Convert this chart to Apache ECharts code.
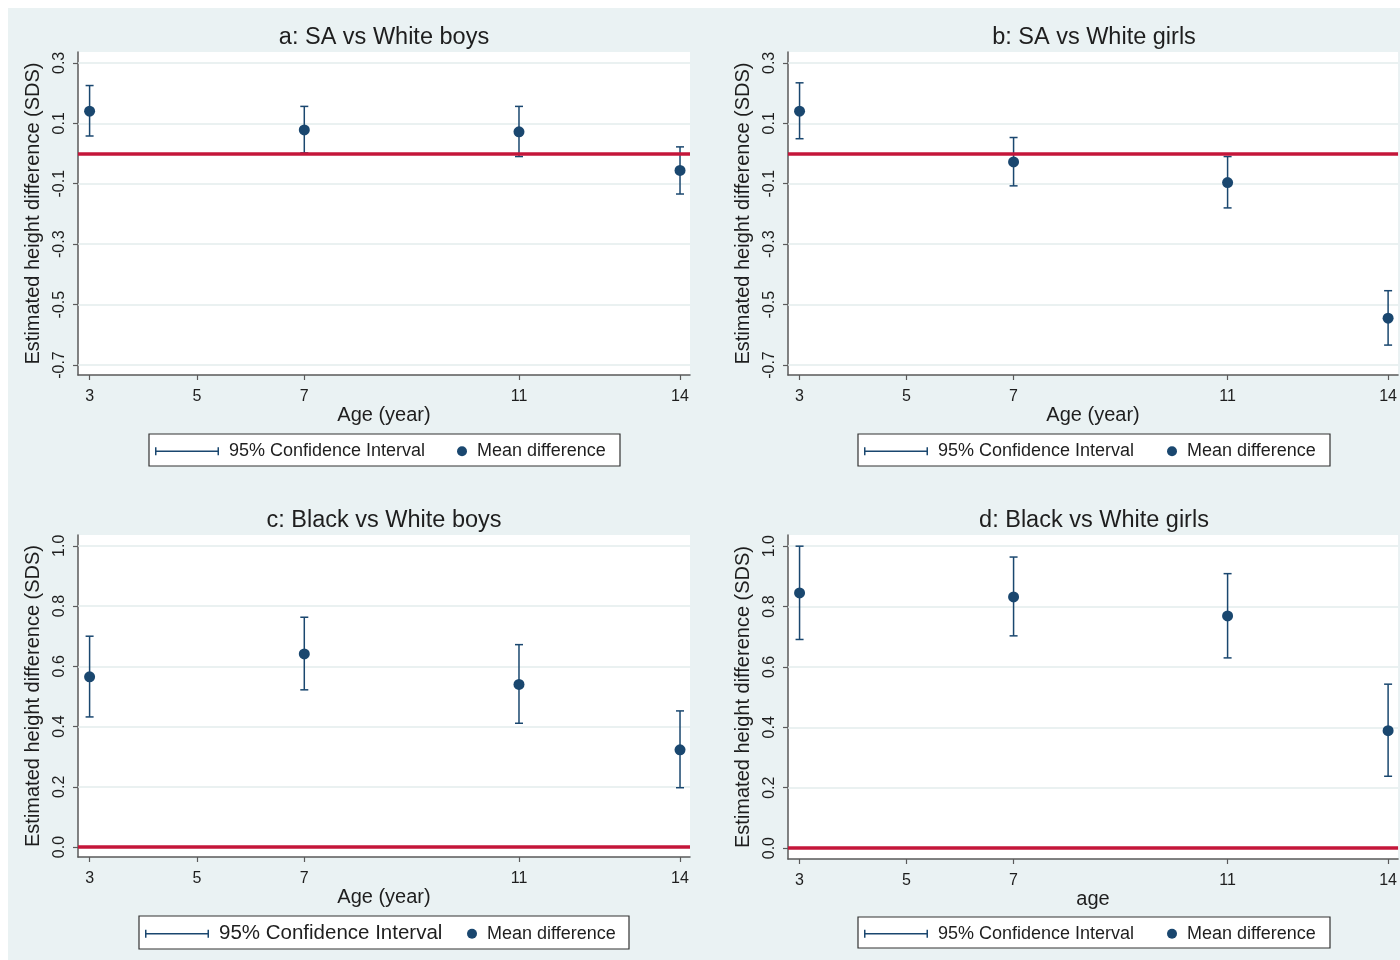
<!DOCTYPE html>
<html>
<head>
<meta charset="utf-8">
<script src="https://cdn.jsdelivr.net/npm/echarts@6/dist/echarts.min.js"></script>
<style>
html,body{margin:0;padding:0;background:#fff;}
#chart{width:1400px;height:960px;}
</style>
</head>
<body>
<div id="chart"></div>
<script>
// ---------- data ----------
const ages = [3, 7, 11, 14];
const xTicks = [3, 5, 7, 11, 14];
const yTicksAB = [-0.7, -0.5, -0.3, -0.1, 0.1, 0.3];
const yTicksCD = [0.0, 0.2, 0.4, 0.6, 0.8, 1.0];

const titles = ['a: SA vs White boys', 'b: SA vs White girls', 'c: Black vs White boys', 'd: Black vs White girls'];
const xNames = ['Age (year)', 'Age (year)', 'Age (year)', 'age'];
const yName = 'Estimated height difference (SDS)';
const ciName = '95% Confidence Interval';
const meanName = 'Mean difference';

const aMean = [0.140, 0.078, 0.072, -0.056];
const aLo   = [0.058, 0.002, -0.010, -0.134];
const aHi   = [0.225, 0.156, 0.156, 0.022];

const bMean = [0.140, -0.028, -0.096, -0.545];
const bLo   = [0.049, -0.107, -0.180, -0.634];
const bHi   = [0.234, 0.053, -0.010, -0.454];

const cMean = [0.565, 0.641, 0.540, 0.323];
const cLo   = [0.432, 0.522, 0.411, 0.197];
const cHi   = [0.700, 0.763, 0.672, 0.452];

const dMean = [0.845, 0.832, 0.769, 0.389];
const dLo   = [0.691, 0.703, 0.630, 0.238];
const dHi   = [1.000, 0.964, 0.909, 0.543];

// ---------- styling / layout ----------
const NAVY = '#1a476f';
const RED = '#c4163a';
const BG = '#eaf2f3';
const GRIDC = '#e3eced';
const AXISC = '#5a5a5a';
const TEXTC = '#1e1e1e';
const FONT = '"Liberation Sans", Arial, sans-serif';

const panels = [
  {mean: aMean, lo: aLo, hi: aHi, yTicks: yTicksAB, ymin: -0.733, ymax: 0.336,
   grid: {left: 78, top: 52, width: 612, height: 323}, titleX: 384, titleY: 26,
   legendY: 453, box: [149, 434, 471, 32], ciLeft: 155, meanLeft: 457, ciFont: 18},
  {mean: bMean, lo: bLo, hi: bHi, yTicks: yTicksAB, ymin: -0.733, ymax: 0.336,
   grid: {left: 788, top: 52, width: 612, height: 323}, titleX: 1094, titleY: 26,
   legendY: 453, box: [858, 434, 472, 32], ciLeft: 864, meanLeft: 1167, ciFont: 18},
  {mean: cMean, lo: cLo, hi: cHi, yTicks: yTicksCD, ymin: -0.033, ymax: 1.036,
   grid: {left: 78, top: 535, width: 612, height: 322}, titleX: 384, titleY: 509,
   legendY: 935.5, box: [139, 916, 490, 33], ciLeft: 145, meanLeft: 467, ciFont: 20.5},
  {mean: dMean, lo: dLo, hi: dHi, yTicks: yTicksCD, ymin: -0.036, ymax: 1.037,
   grid: {left: 788, top: 535, width: 612, height: 324}, titleX: 1094, titleY: 509,
   legendY: 935.5, box: [858, 917, 472, 31], ciLeft: 864, meanLeft: 1167, ciFont: 18}
];

function renderCI(params, api) {
  const x = api.value(0), lo = api.value(1), hi = api.value(2);
  const pLo = api.coord([x, lo]);
  const pHi = api.coord([x, hi]);
  const cw = 4;
  const style = {stroke: NAVY, lineWidth: 1.5, fill: null};
  return {
    type: 'group',
    children: [
      {type: 'line', shape: {x1: pLo[0], y1: pLo[1], x2: pHi[0], y2: pHi[1]}, style: style},
      {type: 'line', shape: {x1: pHi[0] - cw, y1: pHi[1], x2: pHi[0] + cw, y2: pHi[1]}, style: style},
      {type: 'line', shape: {x1: pLo[0] - cw, y1: pLo[1], x2: pLo[0] + cw, y2: pLo[1]}, style: style}
    ]
  };
}

const CI_ICON = 'path://M0,0h1.5v8h-1.5z M0,3.25h64v1.5h-64z M62.5,0h1.5v8h-1.5z';

const option = {
  animation: false,
  backgroundColor: '#ffffff',
  textStyle: {fontFamily: FONT},
  graphic: [],
  title: [],
  grid: [],
  xAxis: [],
  yAxis: [],
  legend: [],
  series: []
};

option.graphic.push({type: 'rect', shape: {x: 8, y: 8, width: 1392, height: 952}, style: {fill: BG}, z: -10, silent: true});

panels.forEach((p, i) => {
  option.title.push({
    text: titles[i], left: p.titleX, top: p.titleY, textAlign: 'center', padding: 0,
    textStyle: {fontFamily: FONT, fontSize: 23.5, fontWeight: 'normal', color: TEXTC}
  });
  option.grid.push(Object.assign({show: true, backgroundColor: '#ffffff', borderWidth: 0}, p.grid));
  option.xAxis.push({
    type: 'value', gridIndex: i, min: 2.784, max: 14.186,
    name: xNames[i], nameLocation: 'middle', nameGap: 29,
    nameTextStyle: {fontFamily: FONT, fontSize: 20, color: TEXTC},
    axisLine: {show: true, onZero: false, lineStyle: {color: AXISC, width: 1.5}},
    axisTick: {show: true, length: 5, inside: false, customValues: xTicks, lineStyle: {color: AXISC, width: 1.2}},
    axisLabel: {show: true, margin: 14, customValues: xTicks, fontFamily: FONT, fontSize: 16, color: TEXTC},
    splitLine: {show: false}
  });
  option.yAxis.push({
    type: 'value', gridIndex: i, min: p.ymin, max: p.ymax,
    name: yName, nameLocation: 'middle', nameRotate: 90, nameGap: 35,
    nameTextStyle: {fontFamily: FONT, fontSize: 20, color: TEXTC},
    axisLine: {show: true, onZero: false, lineStyle: {color: AXISC, width: 1.5}},
    axisTick: {show: true, length: 5, inside: false, customValues: p.yTicks, lineStyle: {color: AXISC, width: 1.2}},
    axisLabel: {show: true, rotate: 90, margin: 10, customValues: p.yTicks, fontFamily: FONT, fontSize: 16, color: TEXTC,
      formatter: v => v.toFixed(1)},
    splitLine: {show: false}
  });
  // legend box
  option.graphic.push({type: 'rect', shape: {x: p.box[0], y: p.box[1], width: p.box[2], height: p.box[3]},
    style: {fill: '#ffffff', stroke: '#333333', lineWidth: 1.2}, z: 1, silent: true});
  option.legend.push({
    left: p.ciLeft, top: p.legendY - p.ciFont * 0.6, padding: 0, selectedMode: false,
    itemWidth: 64, itemHeight: 8, z: 5,
    data: [{name: ciName, icon: CI_ICON, itemStyle: {color: NAVY, borderWidth: 0}}],
    textStyle: {fontFamily: FONT, fontSize: p.ciFont, color: TEXTC, padding: [0, 0, 0, 5]}
  });
  option.legend.push({
    left: p.meanLeft, top: p.legendY - 18 * 0.6, padding: 0, selectedMode: false,
    itemWidth: 10, itemHeight: 10, z: 5,
    data: [{name: meanName, icon: 'circle', itemStyle: {color: NAVY, borderWidth: 0}}],
    textStyle: {fontFamily: FONT, fontSize: 18, color: TEXTC, padding: [0, 0, 0, 5]}
  });
  // gridlines
  option.series.push({
    type: 'line', xAxisIndex: i, yAxisIndex: i, data: [], z: 1, silent: true,
    markLine: {silent: true, symbol: 'none', label: {show: false}, animation: false, z: 1,
      lineStyle: {color: GRIDC, width: 1.5, type: 'solid'},
      data: p.yTicks.map(v => ({yAxis: v}))}
  });
  // zero reference line
  option.series.push({
    type: 'line', xAxisIndex: i, yAxisIndex: i, data: [], z: 3, silent: true,
    markLine: {silent: true, symbol: 'none', label: {show: false}, animation: false, z: 3,
      lineStyle: {color: RED, width: 3.5, type: 'solid'},
      data: [{yAxis: 0}]}
  });
  // confidence intervals
  option.series.push({
    type: 'custom', name: ciName, xAxisIndex: i, yAxisIndex: i, z: 2,
    renderItem: renderCI,
    encode: {x: 0, y: [1, 2]},
    itemStyle: {color: NAVY},
    data: ages.map((a, k) => [a, p.lo[k], p.hi[k]])
  });
  // means
  option.series.push({
    type: 'scatter', name: meanName, xAxisIndex: i, yAxisIndex: i, z: 4,
    symbol: 'circle', symbolSize: 11,
    itemStyle: {color: NAVY, opacity: 1},
    data: ages.map((a, k) => [a, p.mean[k]])
  });
});

const chart = echarts.init(document.getElementById('chart'), null, {renderer: 'canvas'});
chart.setOption(option);
</script>
</body>
</html>
